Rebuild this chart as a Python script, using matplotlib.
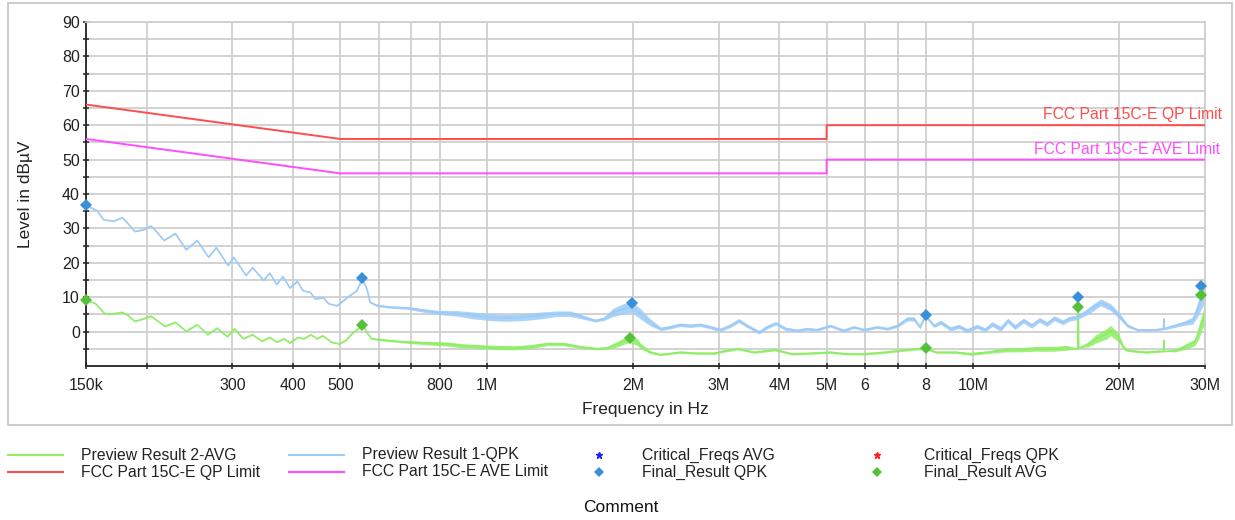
import matplotlib
matplotlib.use("Agg")
import matplotlib.pyplot as plt
import numpy as np
from matplotlib.lines import Line2D
from matplotlib.patches import Rectangle
from matplotlib.ticker import FixedLocator, NullFormatter, NullLocator
import matplotlib.transforms as mtransforms

plt.rcParams['font.family'] = ['Liberation Sans', 'DejaVu Sans']

# ---------------- data ----------------
# Preview Result 1-QPK (frequency in MHz, level in dBuV, fuzz half-width)
qpk_freq = [0.150, 0.158, 0.163, 0.171, 0.178, 0.183, 0.189, 0.197, 0.204, 0.210,
            0.217, 0.229, 0.241, 0.254, 0.268, 0.278, 0.294, 0.302, 0.320, 0.330,
            0.348, 0.358, 0.370, 0.381, 0.394, 0.408, 0.419, 0.434, 0.444, 0.462,
            0.473, 0.492, 0.508, 0.524, 0.541, 0.555, 0.567, 0.576, 0.595, 0.633,
            0.686, 0.730, 0.790, 0.869, 0.940, 1.017, 1.10, 1.19, 1.29, 1.395,
            1.486, 1.58, 1.67, 1.74, 1.82, 1.91, 1.99, 2.07, 2.17, 2.28,
            2.39, 2.50, 2.62, 2.75, 2.88, 3.02, 3.17, 3.30, 3.43, 3.63,
            3.77, 3.93, 4.12, 4.35, 4.56, 4.78, 5.09, 5.42, 5.69, 5.97,
            6.35, 6.66, 6.99, 7.33, 7.56, 7.78, 7.99, 8.31, 8.58, 8.99,
            9.36, 9.73, 10.2, 10.6, 10.95, 11.4, 11.8, 12.2, 12.7, 13.2,
            13.7, 14.2, 14.7, 15.3, 15.75, 16.4, 16.9, 17.5, 18.3, 19.2,
            20.1, 20.8, 21.8, 23.6, 24.65, 24.7, 24.75, 25.1, 27.1, 28.3,
            28.9, 29.6, 30.0]
qpk_level = [36.7, 35.2, 32.5, 32.1, 33.1, 31.4, 29.1, 29.6, 30.7, 28.9,
             26.5, 28.5, 23.8, 26.5, 21.6, 24.4, 19.2, 21.6, 16.3, 18.6,
             14.9, 17.0, 13.7, 16.0, 12.7, 14.6, 11.9, 11.4, 9.5, 9.8,
             8.1, 7.5, 9.0, 10.5, 11.9, 15.3, 12.5, 8.5, 7.6, 7.1,
             6.9, 6.3, 5.6, 5.3, 4.7, 4.2, 4.0, 4.2, 4.7, 5.2,
             5.2, 4.2, 3.2, 3.7, 5.6, 6.6, 7.1, 5.2, 2.7, 0.8,
             1.3, 2.0, 1.7, 2.0, 1.3, 0.5, 1.7, 3.2, 1.7, -0.2,
             1.3, 2.4, 0.8, 0.3, 0.8, 0.5, 1.7, 0.3, 1.3, 0.5,
             1.3, 0.8, 1.7, 3.7, 3.7, 1.3, 4.7, 1.7, 2.7, 0.8,
             1.5, 0.3, 1.5, 0.5, 2.2, 0.8, 3.2, 1.3, 3.2, 1.7,
             3.4, 2.2, 3.9, 2.7, 3.7, 4.2, 5.2, 6.6, 8.5, 7.1,
             4.2, 1.7, 0.5, 0.5, 0.8, 3.7, 0.8, 1.1, 2.4, 3.2,
             6.1, 10.0, 11.0]
qpk_fuzz = [0.1, 0.1, 0.1, 0.1, 0.1, 0.1, 0.1, 0.1, 0.1, 0.1,
            0.1, 0.1, 0.1, 0.1, 0.1, 0.1, 0.1, 0.1, 0.1, 0.1,
            0.1, 0.1, 0.1, 0.1, 0.1, 0.1, 0.1, 0.1, 0.1, 0.1,
            0.1, 0.1, 0.1, 0.1, 0.1, 0.1, 0.1, 0.2, 0.3, 0.3,
            0.4, 0.5, 0.6, 0.8, 1.0, 1.0, 1.0, 1.0, 1.0, 0.8,
            0.8, 0.6, 0.4, 0.5, 1.2, 1.5, 1.6, 1.5, 1.0, 0.5,
            0.5, 0.5, 0.5, 0.5, 0.5, 0.5, 0.5, 0.6, 0.5, 0.5,
            0.5, 0.5, 0.5, 0.4, 0.4, 0.4, 0.4, 0.4, 0.4, 0.4,
            0.4, 0.4, 0.5, 0.6, 0.6, 0.5, 0.5, 0.5, 0.6, 0.6,
            0.6, 0.6, 0.6, 0.6, 0.7, 0.7, 0.7, 0.7, 0.7, 0.7,
            0.7, 0.7, 0.7, 0.7, 0.7, 0.7, 0.8, 1.0, 1.0, 1.0,
            0.8, 0.5, 0.3, 0.3, 0.3, 0.3, 0.3, 0.4, 0.6, 1.0,
            2.0, 3.0, 2.5]

# Preview Result 2-AVG
avg_freq = [0.150, 0.157, 0.164, 0.171, 0.178, 0.183, 0.189, 0.197, 0.204, 0.211,
            0.218, 0.229, 0.241, 0.254, 0.267, 0.279, 0.293, 0.303, 0.316, 0.330,
            0.345, 0.358, 0.370, 0.383, 0.394, 0.409, 0.421, 0.435, 0.448, 0.460,
            0.480, 0.498, 0.513, 0.530, 0.544, 0.555, 0.567, 0.580, 0.610, 0.650,
            0.700, 0.765, 0.83, 0.89, 0.97, 1.05, 1.14, 1.23, 1.33, 1.44,
            1.55, 1.69, 1.77, 1.86, 1.94, 1.97, 2.04, 2.07, 2.17, 2.28,
            2.50, 2.71, 2.94, 3.07, 3.28, 3.55, 3.92, 4.25, 4.64, 5.09,
            5.50, 5.97, 6.60, 7.10, 7.70, 8.02, 8.40, 9.20, 9.90, 10.7,
            11.7, 12.5, 13.5, 14.7, 15.6, 16.42, 16.46, 16.50, 17.3, 17.9,
            18.8, 19.2, 19.9, 20.4, 20.8, 22.7, 24.2, 24.65, 24.7, 24.75,
            26.1, 27.6, 28.6, 29.2, 29.8, 30.0]
avg_level = [9.2, 8.1, 5.2, 5.2, 5.6, 4.7, 3.0, 3.7, 4.5, 3.0,
             1.5, 2.7, 0.1, 2.0, -0.9, 1.0, -1.5, 0.8, -2.1, -0.9,
             -2.8, -1.7, -3.1, -2.1, -3.3, -1.7, -2.1, -0.9, -2.1, -1.2,
             -3.1, -3.6, -2.6, -0.5, 0.8, 2.2, -0.2, -2.1, -2.4, -2.8,
             -3.1, -3.4, -3.6, -4.1, -4.4, -4.6, -4.7, -4.4, -3.6, -3.6,
             -4.4, -5.0, -4.7, -3.6, -2.4, -2.2, -3.0, -4.1, -6.0, -6.7,
             -6.0, -6.3, -6.3, -5.7, -5.0, -6.0, -5.3, -6.5, -6.3, -6.0,
             -6.5, -6.5, -6.0, -5.5, -5.0, -5.0, -6.0, -6.0, -6.5, -6.0,
             -5.3, -5.3, -5.0, -5.0, -4.7, -5.0, 7.6, -4.8, -3.6, -2.1,
             -0.7, 0.3, -1.7, -4.6, -5.5, -6.0, -5.7, -5.8, -2.6, -5.8,
             -5.5, -4.1, -3.1, 0.3, 4.2, 1.3]
avg_fuzz = [0.1, 0.1, 0.1, 0.1, 0.1, 0.1, 0.1, 0.1, 0.1, 0.1,
            0.1, 0.1, 0.1, 0.1, 0.1, 0.1, 0.1, 0.1, 0.1, 0.1,
            0.1, 0.1, 0.1, 0.1, 0.1, 0.1, 0.1, 0.1, 0.1, 0.1,
            0.1, 0.1, 0.1, 0.1, 0.1, 0.1, 0.1, 0.2, 0.3, 0.3,
            0.4, 0.5, 0.6, 0.6, 0.6, 0.6, 0.6, 0.6, 0.5, 0.5,
            0.4, 0.3, 0.4, 0.8, 1.0, 1.0, 1.0, 0.8, 0.4, 0.3,
            0.3, 0.3, 0.3, 0.3, 0.3, 0.3, 0.3, 0.3, 0.3, 0.3,
            0.3, 0.3, 0.3, 0.3, 0.3, 0.3, 0.3, 0.3, 0.4, 0.4,
            0.6, 0.6, 0.7, 0.7, 0.7, 0.0, 0.0, 0.0, 0.8, 1.2,
            1.5, 1.5, 1.2, 0.6, 0.3, 0.3, 0.3, 0.0, 0.0, 0.0,
            0.4, 0.8, 1.0, 2.0, 2.5, 2.0]

# Limits
qp_limit_freq = [0.15, 0.5, 5.0, 5.0, 30.0]
qp_limit = [66, 56, 56, 60, 60]
ave_limit_freq = [0.15, 0.5, 5.0, 5.0, 30.0]
ave_limit = [56, 46, 46, 50, 50]

# Final results / critical frequencies
qpk_final_freq = [0.150, 0.555, 1.99, 8.0, 16.47, 29.5]
qpk_final = [36.7, 15.5, 8.2, 4.7, 10.2, 13.4]
avg_final_freq = [0.150, 0.555, 1.97, 8.0, 16.47, 29.4]
avg_final = [9.2, 1.9, -1.8, -4.7, 7.1, 10.7]

x_tick_freq = [0.15, 0.2, 0.3, 0.4, 0.5, 0.6, 0.7, 0.8, 1, 2, 3, 4, 5, 6, 7, 8, 10, 20, 30]
x_tick_labels = ['150k', '', '300', '400', '500', '', '', '800', '1M', '2M', '3M', '4M',
                 '5M', '6', '', '8', '10M', '20M', '30M']
y_ticks = [0, 10, 20, 30, 40, 50, 60, 70, 80, 90]

# ---------------- colours ----------------
c_qpk = '#9DCBF7'
c_avg = '#8EEE66'
c_qp = '#FF4D4D'
c_ave = '#FF4DFF'
c_qpk_d = '#3A8FDB'
c_avg_d = '#55C13A'
c_grid = '#CFCFCF'

W, H = 1235, 520
fig = plt.figure(figsize=(W / 100, H / 100), dpi=100)

def fx(px):
    return px / W

def fy(py):
    return 1 - py / H

# outer frame
fig.add_artist(Rectangle((fx(8), fy(425)), fx(1232) - fx(8), fy(3) - fy(425),
                         transform=fig.transFigure, fill=False, edgecolor='#C4C4C4', lw=1.2))

ax = fig.add_axes([fx(86), fy(366), fx(1205) - fx(86), fy(22) - fy(366)])
ax.set_xscale('log')
ax.set_xlim(0.15, 30)
ax.set_ylim(-10, 90)

# grid
ax.xaxis.set_major_locator(FixedLocator(x_tick_freq))
ax.set_xticklabels(x_tick_labels)
ax.xaxis.set_minor_locator(NullLocator())
ax.xaxis.set_minor_formatter(NullFormatter())
ax.yaxis.set_major_locator(FixedLocator(y_ticks))
ax.yaxis.set_minor_locator(FixedLocator([-5, 5, 15, 25, 35, 45, 55, 65, 75, 85]))
ax.grid(True, which='both', axis='y', color=c_grid, lw=1.3, zorder=0)
ax.grid(True, which='major', axis='x', color=c_grid, lw=1.3, zorder=0)
ax.set_axisbelow(True)

for s in ['top', 'right']:
    ax.spines[s].set_color(c_grid)
    ax.spines[s].set_linewidth(1.3)
for s in ['left', 'bottom']:
    ax.spines[s].set_color('#222222')
    ax.spines[s].set_linewidth(1.3)

ax.tick_params(axis='both', which='both', direction='inout', length=5, width=1.1,
               color='#222222', labelsize=11.5, labelcolor='#222222')
ax.tick_params(axis='x', pad=6)
ax.tick_params(axis='y', pad=2)

# traces
qf = np.array(qpk_freq); ql = np.array(qpk_level); qz = np.array(qpk_fuzz)
af = np.array(avg_freq); al = np.array(avg_level); az = np.array(avg_fuzz)
ax.fill_between(af, al - az, al + az, color=c_avg, lw=0, alpha=0.85, zorder=2)
ax.plot(af, al, color=c_avg, lw=1.2, zorder=2, solid_joinstyle='round')
ax.fill_between(qf, ql - qz, ql + qz, color=c_qpk, lw=0, alpha=0.85, zorder=2)
ax.plot(qf, ql, color=c_qpk, lw=1.2, zorder=2, solid_joinstyle='round')

ax.plot(qp_limit_freq, qp_limit, color=c_qp, lw=1.4, zorder=3)
ax.plot(ave_limit_freq, ave_limit, color=c_ave, lw=1.4, zorder=3)

# critical freqs (small asterisks, mostly hidden by the diamonds)
ax.plot(qpk_final_freq, qpk_final, ls='none', marker='*', ms=4, color='#FF2020', zorder=4)
ax.plot(avg_final_freq, avg_final, ls='none', marker='*', ms=4, color='#2020FF', zorder=4)
ax.plot(qpk_final_freq, qpk_final, ls='none', marker='D', ms=6.5, color=c_qpk_d,
        markeredgewidth=0, zorder=5, clip_on=False)
ax.plot(avg_final_freq, avg_final, ls='none', marker='D', ms=6.5, color=c_avg_d,
        markeredgewidth=0, zorder=5, clip_on=False)

# limit labels
trans = mtransforms.blended_transform_factory(ax.transAxes, ax.transData)
ax.text(1.0152, 60.8, 'FCC Part 15C-E QP Limit', transform=trans, ha='right', va='bottom',
        color=c_qp, fontsize=11.3, clip_on=False)
ax.text(1.0135, 50.8, 'FCC Part 15C-E AVE Limit', transform=trans, ha='right', va='bottom',
        color=c_ave, fontsize=11.3, clip_on=False)

ax.set_xlabel('Frequency in Hz', fontsize=12.5, color='#222222')
ax.xaxis.set_label_coords(0.5, (366 - 402) / 344)
ax.set_ylabel('Level in dBµV', fontsize=12.5, color='#222222')
ax.yaxis.set_label_coords((33 - 86) / 1119, 0.5)

# legend (manual)
lg_fs = 11.3
rows = [455, 472]
fig.add_artist(Line2D([fx(8), fx(63)], [fy(rows[0])] * 2, color=c_avg, lw=1.5, transform=fig.transFigure))
fig.text(fx(81), fy(rows[0]), 'Preview Result 2-AVG', fontsize=lg_fs, va='center', color='#222222')
fig.add_artist(Line2D([fx(289), fx(344)], [fy(rows[0])] * 2, color=c_qpk, lw=1.5, transform=fig.transFigure))
fig.text(fx(362), fy(rows[0]), 'Preview Result 1-QPK', fontsize=lg_fs, va='center', color='#222222')
fig.add_artist(Line2D([fx(599)], [fy(rows[0])], ls='none', marker='*', ms=5, color='#2020FF', transform=fig.transFigure))
fig.text(fx(642), fy(rows[0]), 'Critical_Freqs AVG', fontsize=lg_fs, va='center', color='#222222')
fig.add_artist(Line2D([fx(877)], [fy(rows[0])], ls='none', marker='*', ms=5, color='#FF2020', transform=fig.transFigure))
fig.text(fx(924), fy(rows[0]), 'Critical_Freqs QPK', fontsize=lg_fs, va='center', color='#222222')

fig.add_artist(Line2D([fx(8), fx(63)], [fy(rows[1])] * 2, color=c_qp, lw=1.5, transform=fig.transFigure))
fig.text(fx(81), fy(rows[1]), 'FCC Part 15C-E QP Limit', fontsize=lg_fs, va='center', color='#222222')
fig.add_artist(Line2D([fx(289), fx(344)], [fy(rows[1])] * 2, color=c_ave, lw=1.5, transform=fig.transFigure))
fig.text(fx(362), fy(rows[1]), 'FCC Part 15C-E AVE Limit', fontsize=lg_fs, va='center', color='#222222')
fig.add_artist(Line2D([fx(599)], [fy(rows[1])], ls='none', marker='D', ms=5, color=c_qpk_d, markeredgewidth=0, transform=fig.transFigure))
fig.text(fx(642), fy(rows[1]), 'Final_Result QPK', fontsize=lg_fs, va='center', color='#222222')
fig.add_artist(Line2D([fx(877)], [fy(rows[1])], ls='none', marker='D', ms=5, color=c_avg_d, markeredgewidth=0, transform=fig.transFigure))
fig.text(fx(924), fy(rows[1]), 'Final_Result AVG', fontsize=lg_fs, va='center', color='#222222')

fig.text(fx(621), fy(507), 'Comment', fontsize=12.5, ha='center', va='center', color='#111111')

fig.savefig('out.png', dpi=100)
